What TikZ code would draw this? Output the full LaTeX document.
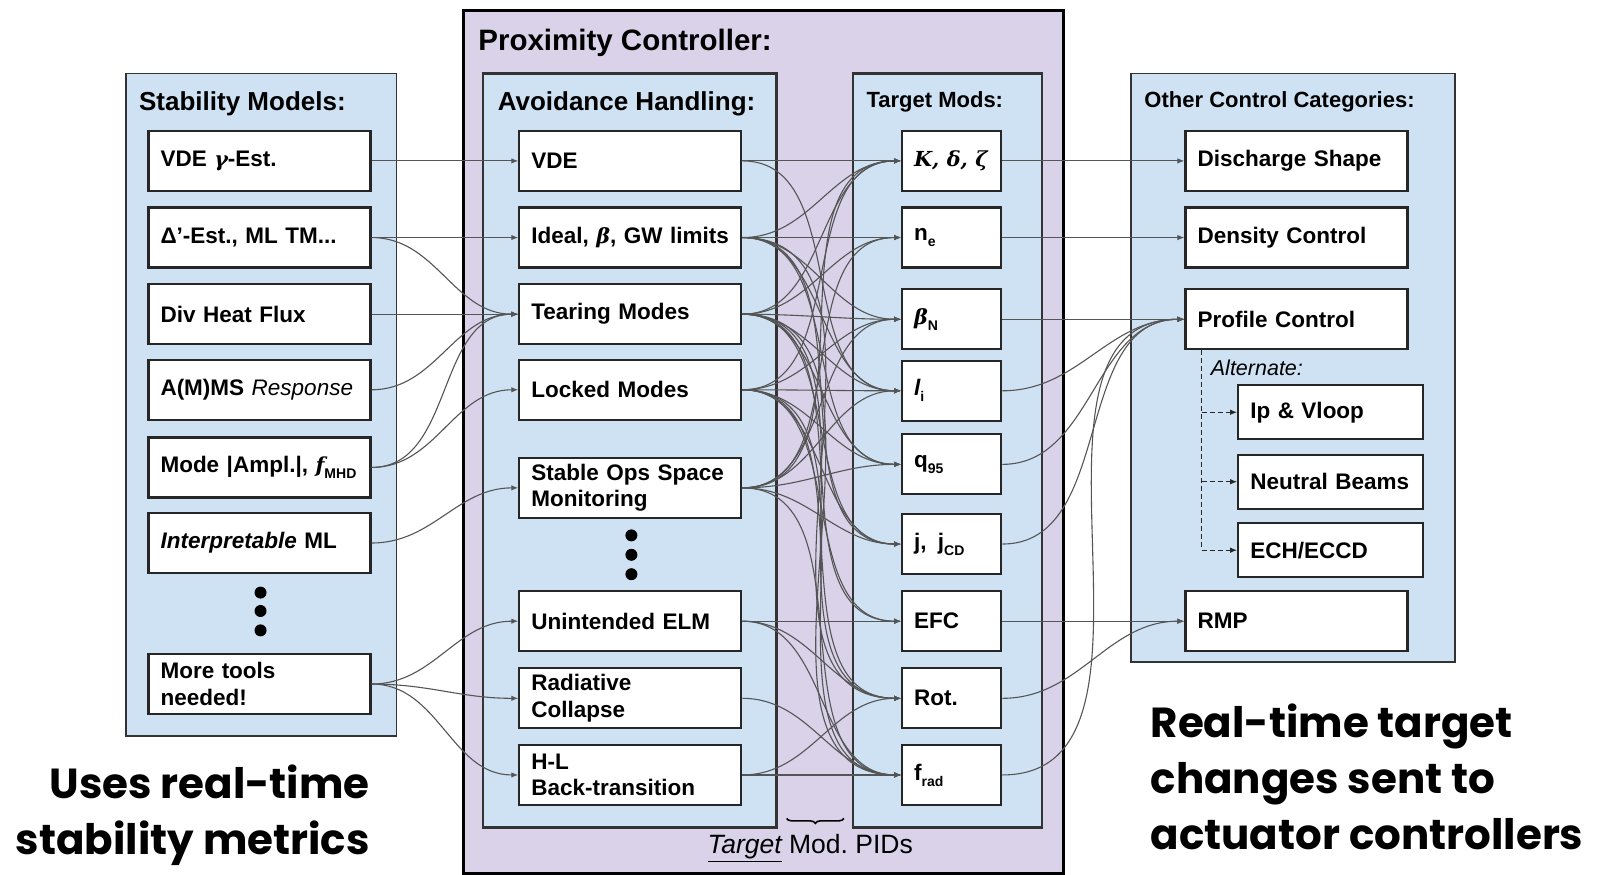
\documentclass[tikz,border=0pt]{standalone}
\usepackage{fontspec}
\setmainfont{Liberation Sans}
\newfontfamily\gkfont[Scale=0.92]{DejaVu Serif}
\newfontfamily\bigfont{Poppins}
\usetikzlibrary{arrows.meta,decorations.pathreplacing}

\definecolor{paleblue}{HTML}{CFE2F3}
\definecolor{palepurple}{HTML}{D9D2E9}
\definecolor{wire}{HTML}{555555}

% bold italic Greek / symbols and small subscripts
\newcommand\gk[1]{{\gkfont\bfseries\itshape #1}}
\newcommand\lowidx[1]{\raisebox{-0.5ex}{\fontsize{14}{14}\selectfont #1}}

\begin{document}
\begin{tikzpicture}[x=1.0217pt,y=-1.0217pt,
  panel/.style={draw=black!80, fill=paleblue, line width=1.8pt},
  bx/.style={draw=black!85, fill=white, line width=2.2pt,
    font=\bfseries\fontsize{22.5}{26.5}\selectfont, align=left,
    inner xsep=12pt, inner ysep=0pt, minimum height=60pt},
  wide/.style={bx, text width=198pt},
  narrow/.style={bx, text width=75pt},
  altbox/.style={bx, text width=161pt, minimum height=54pt},
  conn/.style={draw=wire, line width=1.1pt, -{Latex[length=7pt,width=5.5pt]}},
  dashconn/.style={draw=black!85, line width=1.1pt, dash pattern=on 5pt off 3pt, -{Latex[length=7pt,width=5.5pt]}},
  ttl/.style={anchor=west, inner sep=0pt, font=\bfseries\fontsize{#1}{#1}\selectfont},
  dot/.style={circle, fill=black, inner sep=0pt, minimum size=12pt},
  big/.style={inner sep=0pt, font=\bigfont\bfseries\fontsize{42}{56}\selectfont}
]
\useasboundingbox[fill=white] (0,0) rectangle (1568,856);

% ---------- panels ----------
\draw[panel] (123,72) rectangle (388,720);
\draw[draw=black, fill=palepurple, line width=3pt] (454,10) rectangle (1041,855);
\draw[panel, line width=2.2pt] (473,72) rectangle (760,810);
\draw[panel, line width=2.2pt] (835,72) rectangle (1020,810);
\draw[panel] (1107,72) rectangle (1424,648);

\node[ttl=26] at (136,102) {Stability Models:};
\node[ttl=29.5] at (468,42) {Proximity Controller:};
\node[ttl=26] at (487,102) {Avoidance Handling:};
\node[ttl=22] at (848,100) {Target Mods:};
\node[ttl=22] at (1120,100) {Other Control Categories:};

% ---------- stability models ----------
\node[wide] (s1) at (254,157.5) {\mbox{VDE \gk{γ}-Est.}};
\node[wide] (s2) at (254,232.5) {\mbox{Δ’-Est., ML TM...}};
\node[wide] (s3) at (254,307.5) {Div Heat Flux};
\node[wide] (s4) at (254,381.5) {\mbox{A(M)MS \mdseries\itshape Response}};
\node[wide] (s5) at (254,457.5) {\mbox{Mode |Ampl.|, \gk{f}\lowidx{MHD}}};
\node[wide] (s6) at (254,531.5) {\mbox{\itshape Interpretable\upshape{} ML}};
\node[wide] (s7) at (254,669.5) {More tools\\needed!};
\foreach \y in {580,598,617} \node[dot] at (255,\y) {};

% ---------- avoidance handling ----------
\node[wide] (a1) at (617,157.5) {VDE};
\node[wide] (a2) at (617,232.5) {\mbox{Ideal, \gk{β}, GW limits}};
\node[wide] (a3) at (617,307.5) {Tearing Modes};
\node[wide] (a4) at (617,381.5) {Locked Modes};
\node[wide] (a5) at (617,477.5) {Stable Ops Space\\Monitoring};
\node[wide] (a6) at (617,608) {Unintended ELM};
\node[wide] (a7) at (617,683.5) {Radiative\\Collapse};
\node[wide] (a8) at (617,758.5) {H-L\\Back-transition};
\foreach \y in {524,543,562} \node[dot] at (618,\y) {};

% ---------- target mods ----------
\node[narrow] (t1) at (931.5,157.5) {\mbox{\gk{K, δ, ζ}}};
\node[narrow] (t2) at (931.5,232.5) {n\lowidx{e}};
\node[narrow] (t3) at (931.5,312.5) {\gk{β}\lowidx{N}};
\node[narrow] (t4) at (931.5,382.5) {\itshape l\upshape\lowidx{i}};
\node[narrow] (t5) at (931.5,454.5) {q\lowidx{95}};
\node[narrow] (t6) at (931.5,532.5) {\mbox{j,\, j\lowidx{CD}}};
\node[narrow] (t7) at (931.5,608) {EFC};
\node[narrow] (t8) at (931.5,683.5) {Rot.};
\node[narrow] (t9) at (931.5,758.5) {f\lowidx{rad}};

% ---------- other control categories ----------
\node[wide] (o1) at (1269,157.5) {Discharge Shape};
\node[wide] (o2) at (1269,232.5) {Density Control};
\node[wide] (o3) at (1269,312.5) {Profile Control};
\node[wide] (o4) at (1269,608) {RMP};
\node[altbox] (p1) at (1302.5,403.5) {Ip \& Vloop};
\node[altbox] (p2) at (1302.5,471.5) {Neutral Beams};
\node[altbox] (p3) at (1302.5,538.5) {ECH/ECCD};
\node[anchor=west, inner sep=0pt, font=\itshape\fontsize{21.5}{21.5}\selectfont] (alt) at (1185,360) {Alternate:};

% alternate actuators (dashed)
\coordinate (dtop) at (o3.south -| 1176,0);
\draw[draw=black!85, line width=1.1pt, dash pattern=on 5pt off 3pt] (dtop) -- (1176,538.5);
\foreach \p in {p1,p2,p3} \draw[dashconn] (dtop |- \p.west) -- (\p.west);

% ---------- connectors ----------
\foreach \a/\b in {s1/a1, s2/a2, s2/a3, s3/a3, s4/a3, s5/a3, s5/a4, s6/a5, s7/a6, s7/a7, s7/a8,
  a1/t1, a1/t4,
  a2/t1, a2/t2, a2/t3, a2/t4, a2/t5, a2/t6, a2/t8,
  a3/t1, a3/t2, a3/t3, a3/t4, a3/t5, a3/t6, a3/t7, a3/t8, a3/t9,
  a4/t1, a4/t3, a4/t4, a4/t5, a4/t6, a4/t7, a4/t8, a4/t9,
  a5/t1, a5/t2, a5/t3, a5/t4, a5/t5, a5/t6, a5/t9,
  a6/t7, a6/t8, a6/t9, a7/t9, a8/t8, a8/t9,
  t1/o1, t2/o2, t3/o3, t4/o3, t5/o3, t6/o3, t9/o3, t7/o4, t8/o4}
  \draw[conn] (\a.east) to[out=0,in=180] (\b.west);

% ---------- PID brace ----------
\draw[line width=1.6pt, decorate, decoration={brace, mirror, amplitude=5pt}] (770,801) -- (826,801);
\node[inner sep=0pt, font=\fontsize{26.5}{26.5}\selectfont] (pid) at (793,830) {\underline{\itshape Target}\ Mod.\ PIDs};

% ---------- captions ----------
\node[big, anchor=east, align=right] (capl) at (362,798) {Uses real-time\\stability metrics};
\node[big, anchor=west, align=left] (capr) at (1126,760) {Real-time target\\changes sent to\\actuator controllers};
\end{tikzpicture}
\end{document}
